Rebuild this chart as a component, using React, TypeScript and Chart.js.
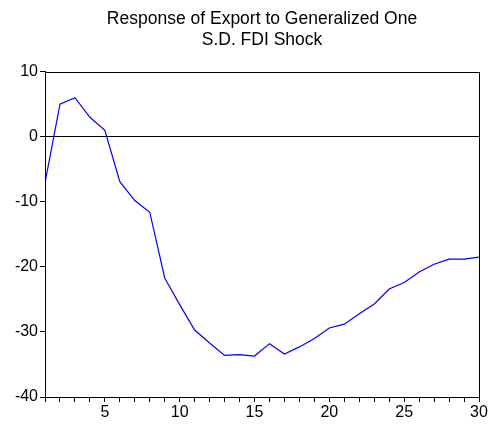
import React, { useEffect, useRef } from "react";
import { Chart, registerables } from "chart.js";

Chart.register(...registerables);

const titleLines = ["Response of Export to Generalized One", "S.D. FDI Shock"];
const periods = [
  1, 2, 3, 4, 5, 6, 7, 8, 9, 10, 11, 12, 13, 14, 15, 16, 17, 18, 19, 20, 21, 22, 23, 24, 25, 26, 27, 28, 29, 30,
];
const response = [
  -7.1, 5.0, 6.0, 3.0, 1.0, -6.9, -9.8, -11.6, -21.7, -25.8, -29.7, -31.7, -33.6, -33.5, -33.7, -31.8, -33.4,
  -32.3, -31.0, -29.4, -28.8, -27.2, -25.7, -23.4, -22.4, -20.8, -19.6, -18.8, -18.8, -18.5,
];
const yMin = -40;
const yMax = 10;
const xMin = 1;
const xMax = 30;

const framePlugin = {
  id: "frame",
  afterDraw(chart: any) {
    const { ctx, chartArea } = chart;
    ctx.save();
    ctx.strokeStyle = "#000";
    ctx.lineWidth = 1;
    ctx.strokeRect(
      Math.round(chartArea.left) + 0.5,
      Math.round(chartArea.top) + 0.5,
      Math.round(chartArea.right - chartArea.left),
      Math.round(chartArea.bottom - chartArea.top)
    );
    ctx.restore();
  },
};

export default function App() {
  const ref = useRef<HTMLCanvasElement>(null);
  useEffect(() => {
    document.body.style.margin = "0";
    const canvas = ref.current!;
    const chart = new Chart(canvas, {
      type: "line",
      data: {
        datasets: [
          {
            data: periods.map((p, i) => ({ x: p, y: response[i] })),
            borderColor: "#0000ff",
            borderWidth: 1.2,
            pointRadius: 0,
            tension: 0,
            fill: false,
          },
        ],
      },
      options: {
        responsive: false,
        animation: false,
        devicePixelRatio: 1,
        layout: { padding: { left: 0, right: 13, top: 0, bottom: 0 } },
        plugins: {
          legend: { display: false },
          tooltip: { enabled: false },
          title: {
            display: true,
            text: titleLines,
            fullSize: false,
            color: "#000",
            font: { family: "'Liberation Sans', Arial, sans-serif", size: 17.5, weight: "normal", lineHeight: 1.22 },
            padding: { top: 8, bottom: 21 },
          },
        },
        scales: {
          x: {
            type: "linear",
            min: xMin,
            max: xMax,
            afterFit: (s: any) => {
              s.height = 30;
            },
            border: { display: true, color: "#000", width: 1 },
            grid: {
              display: true,
              drawOnChartArea: false,
              drawTicks: true,
              tickLength: 5,
              color: "#000",
            },
            ticks: {
              stepSize: 1,
              autoSkip: false,
              maxRotation: 0,
              color: "#000",
              padding: 1,
              font: { family: "'Liberation Sans', Arial, sans-serif", size: 16 },
              callback: (v: any) => (Number(v) % 5 === 0 ? String(v) : ""),
            },
          },
          y: {
            min: yMin,
            max: yMax,
            afterFit: (s: any) => {
              s.width = 45;
            },
            border: { display: true, color: "#000", width: 1 },
            grid: {
              display: true,
              drawOnChartArea: true,
              drawTicks: true,
              tickLength: 5,
              color: (c: any) => (c.tick && c.tick.value === 0 ? "#000" : "rgba(0,0,0,0)"),
              tickColor: "#000",
            },
            ticks: {
              stepSize: 10,
              color: "#000",
              padding: 2,
              font: { family: "'Liberation Sans', Arial, sans-serif", size: 16 },
            },
          },
        },
      },
      plugins: [framePlugin],
    });
    return () => chart.destroy();
  }, []);
  return <canvas ref={ref} width={492} height={427} style={{ display: "block" }} />;
}
